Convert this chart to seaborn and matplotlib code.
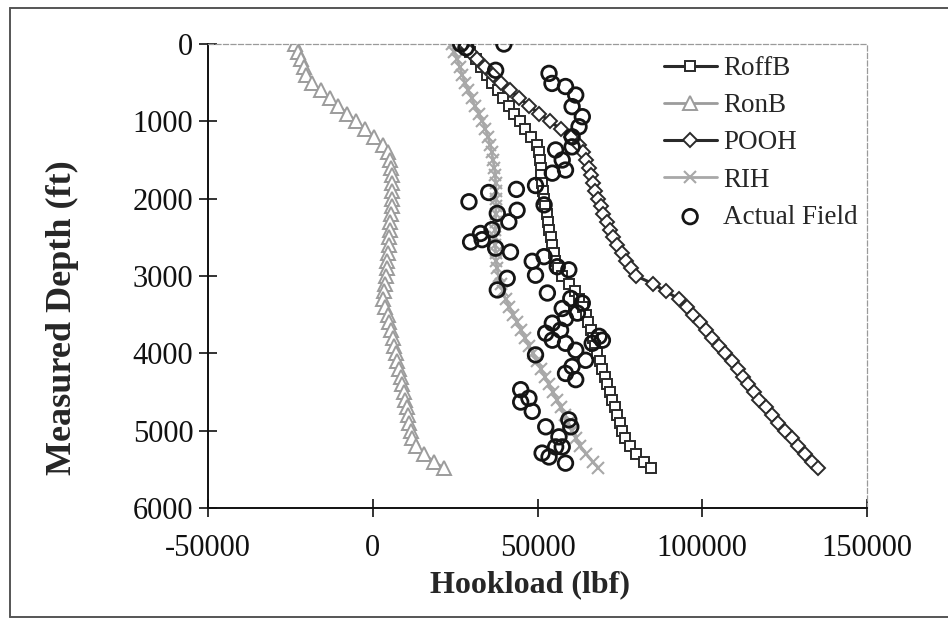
import numpy as np
import pandas as pd
import matplotlib
matplotlib.use("Agg")
import matplotlib.pyplot as plt
from matplotlib.lines import Line2D
from matplotlib.ticker import FuncFormatter
import seaborn as sns

# ---------------- data ----------------
depth = [0, 100, 200, 300, 400, 500, 600, 700, 800, 900,
         1000, 1100, 1200, 1300, 1400, 1500, 1600, 1700, 1800, 1900,
         2000, 2100, 2200, 2300, 2400, 2500, 2600, 2700, 2800, 2900,
         3000, 3100, 3200, 3300, 3400, 3500, 3600, 3700, 3800, 3900,
         4000, 4100, 4200, 4300, 4400, 4500, 4600, 4700, 4800, 4900,
         5000, 5100, 5200, 5300, 5400, 5480]

roffb = [28000, 29600, 31200, 32900, 34600, 36300, 38000, 39600, 41300, 43000,
         44600, 46300, 48000, 49700, 50500, 50800, 51000, 51200, 51500, 51700,
         52000, 52400, 52800, 53100, 53500, 54000, 54400, 54900, 55300, 56300,
         57500, 59500, 61500, 62600, 63700, 64700, 65400, 66100, 66800, 67500,
         68200, 69000, 69700, 70500, 71200, 72000, 72700, 73500, 74200, 75000,
         75700, 76500, 78200, 80000, 82400, 84400]

ronb = [-23500, -22700, -21800, -21000, -20200, -18500, -15800, -13100, -10400, -7700,
        -5000, -2300, 400, 3100, 4600, 5300, 5500, 5700, 5800, 5800,
        5800, 5700, 5500, 5300, 5100, 5000, 4800, 4600, 4400, 4200,
        4000, 3700, 3300, 3000, 3800, 4500, 5000, 5500, 6000, 6500,
        7000, 7500, 8000, 8500, 9000, 9500, 9900, 10300, 10700, 11100,
        11500, 12000, 13000, 15500, 18500, 21500]

pooh = [28000, 29500, 31500, 34000, 36500, 39000, 41700, 44500, 47500, 50500,
        53800, 57000, 60200, 62500, 63800, 64800, 65500, 66200, 66900, 67500,
        68300, 69200, 70000, 71000, 72000, 73000, 74000, 75500, 77000, 78500,
        80000, 85000, 89000, 93000, 95500, 97200, 99200, 101000, 103000, 105000,
        107000, 109000, 110700, 112300, 114000, 115600, 117300, 119200, 121100, 123000,
        125000, 127100, 129100, 131200, 133300, 135000]

rih = [24000, 24800, 25600, 26400, 27200, 28000, 29000, 30000, 31000, 32200,
       33300, 34200, 35000, 35600, 36100, 36500, 36900, 37200, 37300, 37400,
       37400, 37400, 37300, 37300, 37200, 37200, 37200, 37300, 37400, 37700,
       38200, 38800, 39500, 40300, 41500, 42700, 43800, 45000, 46200, 47400,
       48600, 49800, 51000, 52200, 53400, 54600, 55800, 57000, 58200, 59400,
       60600, 61600, 63000, 64800, 66700, 68500]

field_load = [26700, 28300, 39800, 37300, 53500, 54400, 58500, 61600, 60500, 63600,
              62600, 60500, 60500, 55500, 57500, 58500, 54500, 49400, 43600, 35200,
              29200, 52000, 37800, 43800, 41300, 36200, 32700, 29700, 33200, 37300,
              41800, 48400, 52000, 49400, 56000, 59500, 40800, 37800, 53000, 60100,
              63600, 57500, 62100, 58500, 54500, 57000, 52500, 68700, 54500, 58500,
              61600, 66600, 69700, 64600, 49400, 58500, 61600, 60500, 44900, 47400,
              44900, 48400, 52500, 59500, 60100, 56500, 55500, 51400, 53500, 58500,
              57500]
field_depth = [0, 50, 0, 340, 380, 510, 550, 660, 810, 940,
               1070, 1200, 1330, 1370, 1500, 1630, 1670, 1830, 1880, 1920,
               2040, 2080, 2190, 2150, 2300, 2400, 2450, 2560, 2530, 2640,
               2690, 2810, 2750, 2990, 2880, 2920, 3030, 3180, 3220, 3290,
               3350, 3420, 3480, 3550, 3610, 3700, 3740, 3780, 3830, 3870,
               3960, 3870, 3830, 4090, 4020, 4260, 4340, 4170, 4470, 4580,
               4630, 4750, 4950, 4860, 4950, 5080, 5210, 5290, 5340, 5420,
               5210]

# ---------------- figure ----------------
sns.set_theme(style="white")
plt.rcParams["font.family"] = ["Liberation Serif", "DejaVu Serif"]
plt.rcParams["axes.unicode_minus"] = False

W, H = 948, 621
fig = plt.figure(figsize=(W / 100, H / 100), dpi=100)
ax = fig.add_axes([208 / W, 1 - 508 / H, (867 - 208) / W, (508 - 44) / H])

dark = "#2a2a2a"
gray = "#9c9c9c"

sns.lineplot(x=roffb, y=depth, sort=False, estimator=None, ax=ax,
             color=dark, linewidth=2.2, marker="s", markersize=7.5,
             markerfacecolor="white", markeredgecolor=dark, markeredgewidth=1.4,
             label="RoffB")
sns.lineplot(x=ronb, y=depth, sort=False, estimator=None, ax=ax,
             color=gray, linewidth=2.0, marker="^", markersize=10,
             markerfacecolor="white", markeredgecolor=gray, markeredgewidth=1.4,
             label="RonB")
sns.lineplot(x=pooh, y=depth, sort=False, estimator=None, ax=ax,
             color=dark, linewidth=2.2, marker="D", markersize=7.5,
             markerfacecolor="white", markeredgecolor=dark, markeredgewidth=1.4,
             label="POOH")
sns.lineplot(x=rih, y=depth, sort=False, estimator=None, ax=ax,
             color="#a8a8a8", linewidth=2.0, marker="x", markersize=9,
             markeredgecolor="#a8a8a8", markeredgewidth=1.5,
             label="RIH")
sns.scatterplot(x=field_load, y=field_depth, ax=ax, marker="o", s=110,
                facecolor="none", edgecolor="#151515", linewidth=2.0,
                label="Actual Field", zorder=5)

ax.set_xlim(-50000, 150000)
ax.set_ylim(6000, 0)
ax.set_xticks([-50000, 0, 50000, 100000, 150000])
ax.set_yticks([0, 1000, 2000, 3000, 4000, 5000, 6000])
fmt = FuncFormatter(lambda v, p: str(int(v)))
ax.xaxis.set_major_formatter(fmt)
ax.yaxis.set_major_formatter(fmt)
ax.tick_params(axis="both", direction="inout", length=13, width=1.2,
               colors="#111111", labelsize=22, pad=4,
               bottom=True, left=True, top=False, right=False)
ax.tick_params(axis="x", pad=12)

for s in ("left", "bottom"):
    ax.spines[s].set_color("#111111")
    ax.spines[s].set_linewidth(1.4)
for s in ("top", "right"):
    ax.spines[s].set_color("#9a9a9a")
    ax.spines[s].set_linewidth(0.9)
    ax.spines[s].set_linestyle((0, (4, 2)))

ax.set_xlabel("Hookload (lbf)", fontsize=23, fontweight="bold")
ax.xaxis.set_label_coords(0.489, -0.135)
ax.set_ylabel("Measured Depth (ft)", fontsize=26, fontweight="bold")
ax.yaxis.set_label_coords(-0.196, 0.41)

leg = ax.legend(loc="upper right", bbox_to_anchor=(1.015, 1.015), frameon=False,
                fontsize=19.5, handlelength=1.95, handletextpad=0.25,
                labelspacing=0.45, borderaxespad=0.3)

# outer chart frame
fig.add_artist(Line2D([10 / W, 1.0], [1 - 8 / H, 1 - 8 / H], transform=fig.transFigure,
                      color="#555555", linewidth=1.4))
fig.add_artist(Line2D([10 / W, 10 / W], [1 - 8 / H, 1 - 617 / H], transform=fig.transFigure,
                      color="#555555", linewidth=1.4))
fig.add_artist(Line2D([10 / W, 1.0], [1 - 617 / H, 1 - 617 / H], transform=fig.transFigure,
                      color="#555555", linewidth=1.4))

fig.savefig("out.png", dpi=100, facecolor="white")
